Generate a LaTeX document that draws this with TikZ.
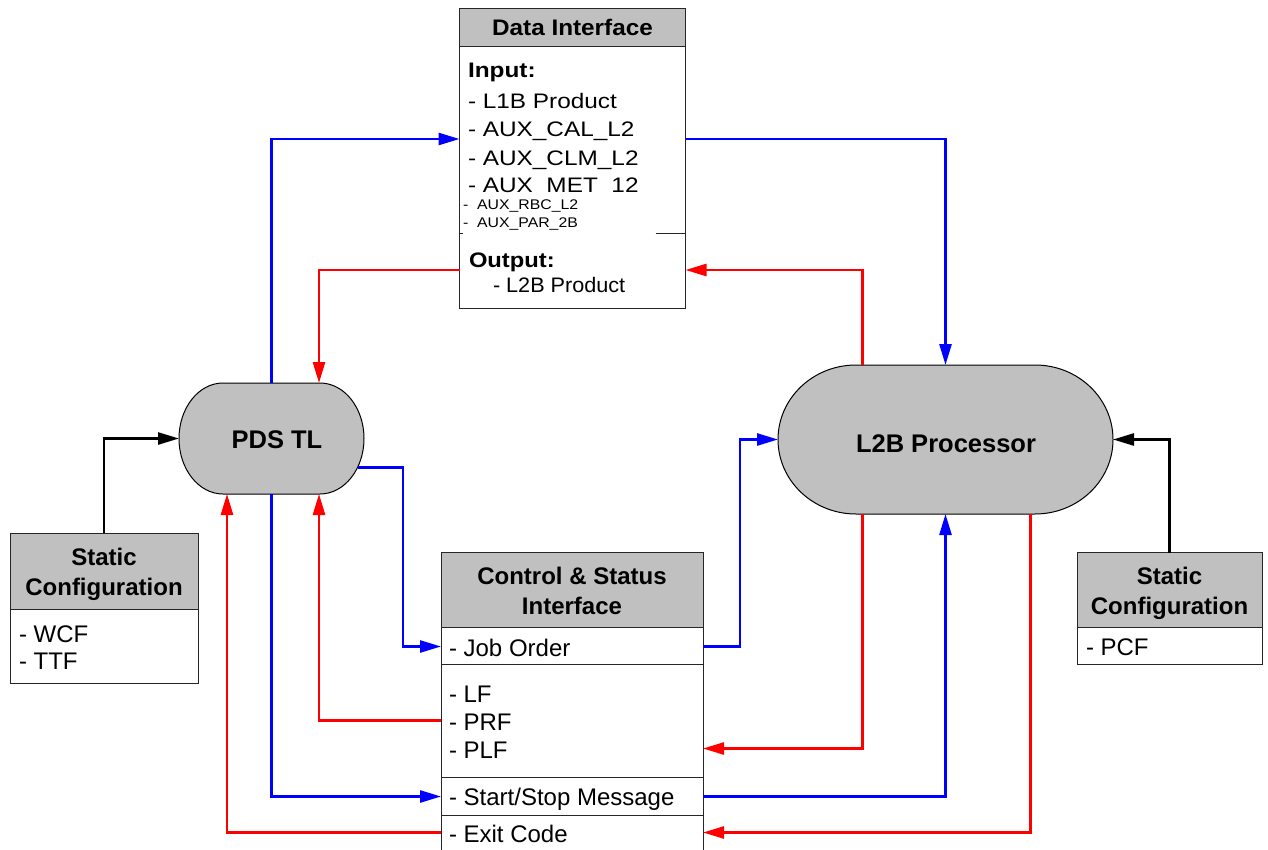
\documentclass[tikz,border=0pt]{standalone}
\usepackage{fontspec}
\setmainfont{Liberation Sans}
\usetikzlibrary{arrows.meta,calc,fit}
\definecolor{hdrgray}{HTML}{C0C0C0}
\newcommand\hs[2]{\scalebox{#1}[1]{#2}}
\newcommand\drawstadium[5]{%
\filldraw[procshape] ({#1+#5},#2) -- ({#3-#5},#2)
 .. controls ({#3-#5+0.5523*#5},#2) and (#3,{(#2+#4)/2-0.5523*(#4-#2)/2}) .. (#3,{(#2+#4)/2})
 .. controls (#3,{(#2+#4)/2+0.5523*(#4-#2)/2}) and ({#3-#5+0.5523*#5},#4) .. ({#3-#5},#4)
 -- ({#1+#5},#4)
 .. controls ({#1+#5-0.5523*#5},#4) and (#1,{(#2+#4)/2+0.5523*(#4-#2)/2}) .. (#1,{(#2+#4)/2})
 .. controls (#1,{(#2+#4)/2-0.5523*(#4-#2)/2}) and ({#1+#5-0.5523*#5},#2) .. ({#1+#5},#2) -- cycle;}
\begin{document}
\begin{tikzpicture}[x=1pt,y=-1pt,
  area/.style={inner sep=0pt, outer sep=0pt, draw=none},
  outline/.style={draw=black!85, line width=1pt},
  procshape/.style={fill=hdrgray, draw=black, line width=1pt},
  txt/.style={inner sep=0pt, outer sep=0pt, anchor=base west},
  ctxt/.style={inner sep=0pt, outer sep=0pt, anchor=base},
  fdi/.style={font=\fontsize{21pt}{25pt}\selectfont},
  fdib/.style={font=\fontsize{21pt}{25pt}\selectfont\bfseries},
  fdih/.style={font=\fontsize{22.5pt}{26pt}\selectfont\bfseries},
  fsmall/.style={font=\fontsize{14pt}{17pt}\selectfont},
  fbody/.style={font=\fontsize{24pt}{28pt}\selectfont},
  fhead/.style={font=\fontsize{24pt}{28pt}\selectfont\bfseries},
  fproc/.style={font=\fontsize{25.5pt}{30pt}\selectfont\bfseries},
  conn/.style={-{Triangle[length=21pt,width=12pt]}, line width=2.6pt},
  bl/.style={conn, draw=blue},
  rd/.style={conn, draw=red},
  bk/.style={conn, draw=black}
]
\fill[white] (0,0) rectangle (1268,850);
\useasboundingbox (0,0) rectangle (1268,850);

% named areas
\node[area, fit={(459.5,8.5) (685.5,308.5)}] (di) {};
\node[area, fit={(441,552.5) (703,862)}] (csi) {};
\node[area, fit={(179,383) (364,494)}] (pds) {};
\node[area, fit={(778,365) (1113,514)}] (l2b) {};
\node[area, fit={(10,533) (198,683)}] (scl) {};
\node[area, fit={(1077,552.5) (1262,664)}] (scr) {};

% ---------- Data Interface ----------
\fill[white] (di.north west) rectangle (di.south east);
\fill[hdrgray] (di.north west) rectangle ($(di.north east)+(0,38)$);
\draw[outline] ($(di.north west)+(0,38)$) -- ($(di.north east)+(0,38)$);
\node[ctxt, fdih] (dititle) at (572.5,36) {\hs{1.08}{Data Interface}};
\node[txt, fdib] (diin) at (468,78) {\hs{1.16}{Input:}};
\node[txt, fdi] (di1) at (468,109) {\hs{1.16}{- L1B Product}};
\node[txt, fdi] (di2) at (468,137) {\hs{1.16}{- AUX\_CAL\_L2}};
\node[txt, fdi] (di3) at (468,166) {\hs{1.16}{- AUX\_CLM\_L2}};
\node[txt, fdi] (di4) at (468,193) {\hs{1.16}{- AUX\_MET\_12}};
\fill[white] ($(di.north west)+(2,185.5)$) rectangle ($(di.north west)+(196,225.5)$);
\node[txt, fsmall] (di5) at (463,210) {\hs{1.13}{-\ \ AUX\_RBC\_L2}};
\node[txt, fsmall] (di6) at (463,228) {\hs{1.13}{-\ \ AUX\_PAR\_2B}};
\draw[outline] ($(di.north west)+(196,225.5)$) -- ($(di.north east)+(0,225.5)$);
\draw[outline] ($(di.north west)+(0,225.5)$) -- ($(di.north west)+(3,225.5)$);
\node[txt, fdib] (diout) at (469,268) {\hs{1.13}{Output:}};
\node[txt, fdi] (di7) at (493,292) {\hs{1.03}{- L2B Product}};
\draw[outline] (di.north west) rectangle (di.south east);

% ---------- Control & Status Interface ----------
\fill[white] (csi.north west) rectangle (csi.south east);
\fill[hdrgray] (csi.north west) rectangle ($(csi.north east)+(0,75)$);
\foreach \dy in {75,112,225,263}
  \draw[outline] ($(csi.north west)+(0,\dy)$) -- ($(csi.north east)+(0,\dy)$);
\node[ctxt, fhead] (csit1) at (572,584) {Control \& Status};
\node[ctxt, fhead] (csit2) at (572,614) {Interface};
\node[txt, fbody] (cjob) at (449,656) {- Job Order};
\node[txt, fbody] (clf) at (449,702) {- LF};
\node[txt, fbody] (cprf) at (449,730) {- PRF};
\node[txt, fbody] (cplf) at (449,758) {- PLF};
\node[txt, fbody] (css) at (449,805) {- Start/Stop Message};
\node[txt, fbody] (cexit) at (449,842) {- Exit Code};
\draw[outline] (csi.north west) rectangle (csi.south east);

% ---------- Static Configuration (left) ----------
\fill[white] (scl.north west) rectangle (scl.south east);
\fill[hdrgray] (scl.north west) rectangle ($(scl.north east)+(0,76)$);
\draw[outline] ($(scl.north west)+(0,76)$) -- ($(scl.north east)+(0,76)$);
\node[ctxt, fhead] (sclt1) at (104,565) {Static};
\node[ctxt, fhead] (sclt2) at (104,595) {Configuration};
\node[txt, fbody] (scl1) at (19,642) {- WCF};
\node[txt, fbody] (scl2) at (19,669) {- TTF};
\draw[outline] (scl.north west) rectangle (scl.south east);

% ---------- Static Configuration (right) ----------
\fill[white] (scr.north west) rectangle (scr.south east);
\fill[hdrgray] (scr.north west) rectangle ($(scr.north east)+(0,74.5)$);
\draw[outline] ($(scr.north west)+(0,74.5)$) -- ($(scr.north east)+(0,74.5)$);
\node[ctxt, fhead] (scrt1) at (1169.5,584) {Static};
\node[ctxt, fhead] (scrt2) at (1169.5,614) {Configuration};
\node[txt, fbody] (scr1) at (1086,655) {- PCF};
\draw[outline] (scr.north west) rectangle (scr.south east);

% ---------- Processes ----------
\drawstadium{179}{383}{364}{494}{44}
\drawstadium{778}{365}{1113}{514}{78}
\node[ctxt, fproc] (pdst) at (277,448) {PDS TL};
\node[ctxt, fproc] (l2bt) at (946,452) {L2B Processor};

% ---------- Connectors ----------
\draw[bl] (pds.north) |- ($(di.north west)+(0,130.5)$);
\draw[bl] ($(di.north east)+(0,130.5)$) -| (l2b.north);
\draw[rd] ($(di.north west)+(0,261.5)$) -| ($(pds.north)+(47.5,0)$);
\draw[rd] ($(l2b.north)+(-83,0)$) |- ($(di.north east)+(0,261.5)$);
\draw[bl] ($(pds.east)+(-6,29)$) -- ++(45,0) |- ($(csi.north west)+(0,94)$);
\draw[bl] ($(csi.north east)+(0,94)$) -- ++(37,0) |- (l2b.west);
\draw[rd] ($(csi.north west)+(0,168)$) -| ($(pds.south)+(47.5,0)$);
\draw[rd] ($(l2b.south)+(-83,0)$) |- ($(csi.north east)+(0,196)$);
\draw[bl] (pds.south) |- ($(csi.north west)+(0,244)$);
\draw[bl] ($(csi.north east)+(0,244)$) -| (l2b.south);
\draw[rd] ($(csi.north west)+(0,280)$) -| ($(pds.south)+(-44.5,0)$);
\draw[rd] ($(l2b.south)+(85,0)$) |- ($(csi.north east)+(0,280)$);
\draw[bk] (scl.north) |- (pds.west);
\draw[bk] (scr.north) |- (l2b.east);
\end{tikzpicture}
\end{document}
